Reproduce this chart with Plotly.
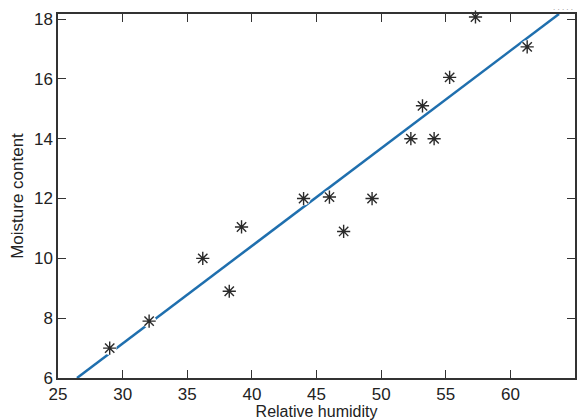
import plotly.graph_objects as go

# measured points (relative humidity vs moisture content)
humidity = [29.0, 32.05, 36.2, 38.25, 39.2, 44.0, 46.0, 47.1, 49.3,
            52.3, 53.2, 54.1, 55.3, 57.3, 61.3]
moisture = [7.0, 7.9, 10.0, 8.9, 11.05, 12.0, 12.05, 10.9, 12.0,
            14.0, 15.1, 14.0, 16.05, 18.07, 17.07]

# fitted line endpoints
fit_x = [26.47, 63.76]
fit_y = [6.0, 18.17]

x_ticks = [25, 30, 35, 40, 45, 50, 55, 60, 65]
y_ticks = [6, 8, 10, 12, 14, 16, 18]

font = "Liberation Sans, Arial, sans-serif"
frame = "#333333"

fig = go.Figure()
fig.add_trace(go.Scatter(x=fit_x, y=fit_y, mode="lines",
                         line=dict(color="#1f6fae", width=2.5),
                         hoverinfo="skip", showlegend=False, cliponaxis=False))
# white halo so the line breaks around each star
fig.add_trace(go.Scatter(x=humidity, y=moisture, mode="markers",
                         marker=dict(symbol="circle", size=14, color="white"),
                         hoverinfo="skip", showlegend=False, cliponaxis=False))
fig.add_trace(go.Scatter(x=humidity, y=moisture, mode="markers",
                         marker=dict(symbol="asterisk-open", size=11,
                                     color="#2a2a2a",
                                     line=dict(color="#2a2a2a", width=1.4)),
                         showlegend=False, cliponaxis=False))

axis_common = dict(showgrid=False, zeroline=False, showline=True,
                   linecolor=frame, linewidth=1.5, mirror="ticks",
                   ticks="inside", ticklen=8, tickcolor=frame, tickwidth=1,
                   automargin=False,
                   tickfont=dict(family=font, size=17, color="#222222"))

fig.update_xaxes(range=[25, 65], tickvals=x_ticks,
                 title=dict(text="Relative humidity", standoff=4,
                            font=dict(family=font, size=16, color="#222222")),
                 **axis_common)
fig.update_yaxes(range=[6, 18.17], tickvals=y_ticks,
                 title=dict(text="Moisture content", standoff=6,
                            font=dict(family=font, size=17, color="#222222")),
                 **axis_common)

fig.add_annotation(x=1.0, y=1.0, xref="paper", yref="paper", xanchor="right",
                   yanchor="bottom", text=". . . . .", showarrow=False,
                   font=dict(family=font, size=8, color="#888888"))

fig.update_layout(width=584, height=420, plot_bgcolor="white",
                  paper_bgcolor="white",
                  margin=dict(l=58, r=9, t=14, b=42))

fig.write_html("out.html", config={"displayModeBar": False},
               post_script="document.body.style.margin='0';")
